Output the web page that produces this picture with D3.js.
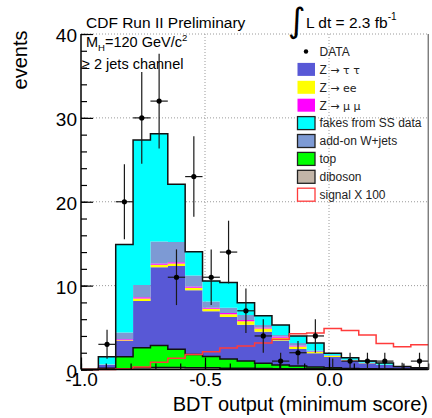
<!DOCTYPE html>
<html><head><meta charset="utf-8">
<script src="https://cdn.jsdelivr.net/npm/d3@7"></script>
<style>body{margin:0;background:#fff}svg{display:block;font-family:"Liberation Sans",Arial,sans-serif}</style>
</head><body><svg id="c" width="432" height="418"></svg>
<script>
// ---- data (20 bins of width 0.07 from -1.0 to 0.4) ----
const binLow = [-1.00,-0.93,-0.86,-0.79,-0.72,-0.65,-0.58,-0.51,-0.44,-0.37,-0.30,-0.23,-0.16,-0.09,-0.02,0.05,0.12,0.19,0.26,0.33];
const binWidth = 0.07;
const diboson = [0,0.05,0.1,0.2,0.25,0.25,0.2,0.2,0.15,0.15,0.12,0.1,0.1,0.08,0.06,0.05,0.04,0.03,0.02,0.02];
const topq    = [0,0.1,1.43,2.4,2.6,2.15,1.6,1.35,1.1,0.85,0.63,0.45,0.32,0.22,0.14,0.07,0.04,0.03,0.02,0.01];
const ztt     = [0,0.4,1.87,5.57,9.35,9.95,7.65,5.4,5.0,4.35,3.75,2.9,2.03,1.63,1.3,0.93,0.66,0.48,0.26,0.15];
const zee     = [0,0.02,0.1,0.3,0.3,0.3,0.3,0.3,0.35,0.4,0.4,0.35,0.3,0.15,0.1,0.05,0.03,0.02,0.01,0.01];
const zmm     = [0,0.02,0.1,0.15,0.15,0.15,0.15,0.12,0.15,0.15,0.12,0.12,0.1,0.08,0.05,0.03,0.02,0.01,0.01,0];
const addon   = [0,0.01,0.8,1.46,2.6,2.4,1.3,0.73,0.6,0.6,0.3,0.2,0.3,0.12,0.05,0.04,0.02,0.01,0.01,0.01];
const fakes   = [0,0.93,10.5,17.27,12.85,6.9,2.85,2.45,3.01,1.47,1.1,1.18,0.85,0.87,0.25,0.23,0.19,0.2,0.03,0];
const signal100 = [0,0,0.05,0.3,0.85,1.35,1.8,2.12,2.55,2.8,3.15,3.6,4.25,4.35,4.9,4.65,4.1,3.1,2.7,2.95];
const dataN   = [0,3,20,30,32,11,23,11,14,7,4,1,2,4,0,1,1,1,0,1];
const dataErr = [0,1.73,4.47,5.48,5.66,3.32,4.8,3.32,3.74,2.65,2,1,1.41,2,1.3,1,1,1,0.8,1];
const yTicks = [0,10,20,30,40];
const xTicks = [-1.0,-0.5,0.0];
const legendLabels = ["DATA","Z → τ τ","Z → ee","Z → μ μ","fakes from SS data","add-on W+jets","top","diboson","signal X 100"];

const svg = d3.select("#c");
const x = d3.scaleLinear([-1.0, 0.4], [81, 428.2]);
const y = d3.scaleLinear([0, 40], [369.5, 34]);

// grid
const grid = svg.append("g").attr("stroke","#9a9a9a").attr("stroke-dasharray","1,2").attr("stroke-width",1);
[10,20,30,40].forEach(v=>grid.append("line").attr("x1",81).attr("x2",428.2).attr("y1",y(v)).attr("y2",y(v)));
[-0.5,0.0].forEach(v=>grid.append("line").attr("x1",x(v)).attr("x2",x(v)).attr("y1",y(40)).attr("y2",y(0)));

// stack
const keys = ["diboson","top","ztt","zee","zmm","addon","fakes"];
const series = {diboson, top: topq, ztt, zee, zmm, addon, fakes};
const rows = binLow.map((lo,i)=>{const r={lo}; keys.forEach(k=>r[k]=series[k][i]); return r;});
const stacked = d3.stack().keys(keys)(rows);
const fill = {diboson:"#c2b5a8", top:"#00ff00", ztt:"#5858d6", zee:"#ffff00", zmm:"#ff00ff", addon:"#7d9ad4", fakes:"#00ffff"};
const outlined = {fakes:true, top:true, diboson:true};

function expand(layer){
  const pts=[];
  layer.forEach(d=>{const lo=d.data.lo; pts.push({x:lo,y0:d[0],y1:d[1]}); pts.push({x:lo+binWidth,y0:d[0],y1:d[1]});});
  return pts;
}
const area = d3.area().x(d=>x(d.x)).y0(d=>y(d.y0)).y1(d=>y(d.y1));
stacked.forEach(layer=>{
  const pts = expand(layer);
  svg.append("path").attr("d",area(pts)).attr("fill",fill[layer.key]).attr("stroke","none");
});
const line = d3.line().x(d=>x(d[0])).y(d=>y(d[1]));
stacked.forEach(layer=>{
  if(!outlined[layer.key]) return;
  const pts=[[ -1.0, 0 ]];
  layer.forEach(d=>{pts.push([d.data.lo,d[1]]); pts.push([d.data.lo+binWidth,d[1]]);});
  pts.push([0.4,0]);
  svg.append("path").attr("d",line(pts)).attr("fill","none").attr("stroke","#111").attr("stroke-width",1.5);
});

// signal x100
const spts=[];
signal100.forEach((v,i)=>{spts.push([binLow[i],v]); spts.push([binLow[i]+binWidth,v]);});
svg.append("path").attr("d",line(spts)).attr("fill","none").attr("stroke","#ff3b3b").attr("stroke-width",1.5);

// data points
const dg = svg.append("g").attr("stroke","#1a1a1a").attr("stroke-width",1.2);
dataN.forEach((n,i)=>{
  const cx = x(binLow[i]+binWidth/2);
  if(n>0){
    dg.append("line").attr("x1",cx).attr("x2",cx).attr("y1",y(n-dataErr[i])).attr("y2",y(n+dataErr[i]));
    dg.append("line").attr("x1",x(binLow[i])).attr("x2",x(binLow[i]+binWidth)).attr("y1",y(n)).attr("y2",y(n));
    dg.append("circle").attr("cx",cx).attr("cy",y(n)).attr("r",2.6).attr("fill","#000").attr("stroke","none");
  } else if(i>0){
    dg.append("line").attr("x1",cx).attr("x2",cx).attr("y1",y(0)).attr("y2",y(dataErr[i]));
  }
});

// axes
const fmt = v => (v<0?"-":"") + Math.abs(v).toFixed(1);
const yAx = svg.append("g").attr("transform","translate(81,0)")
  .call(d3.axisLeft(y).tickValues(yTicks).tickSize(-12).tickPadding(4).tickFormat(d3.format("d")));
const yMin = svg.append("g").attr("transform","translate(81,0)")
  .call(d3.axisLeft(y).tickValues(d3.range(0,41,2)).tickSize(-6).tickFormat(""));
const xAx = svg.append("g").attr("transform","translate(0,369.5)")
  .call(d3.axisBottom(x).tickValues(xTicks).tickSize(-12).tickPadding(3).tickFormat(fmt));
const xMin = svg.append("g").attr("transform","translate(0,369.5)")
  .call(d3.axisBottom(x).tickValues(d3.range(-10,5).map(v=>v/10)).tickSize(-6).tickFormat(""));
[yAx,yMin,xAx,xMin].forEach(g=>{g.select(".domain").remove(); g.selectAll("line").attr("stroke","#000").attr("stroke-width",1.2);});
yAx.selectAll("text").attr("font-size",19).attr("font-family","Liberation Sans, Arial, sans-serif").attr("fill","#000").attr("dy","0.42em");
xAx.selectAll("text").attr("font-size",19).attr("font-family","Liberation Sans, Arial, sans-serif").attr("fill","#000");
svg.append("line").attr("x1",81).attr("x2",81).attr("y1",y(40)).attr("y2",y(0)).attr("stroke","#000").attr("stroke-width",1.5);
svg.append("line").attr("x1",81).attr("x2",428.2).attr("y1",y(0)).attr("y2",y(0)).attr("stroke","#000").attr("stroke-width",1.5);
svg.append("line").attr("x1",428.2).attr("x2",428.2).attr("y1",y(40)).attr("y2",y(0)).attr("stroke","#444").attr("stroke-width",1);

// axis titles
svg.append("text").attr("x",428).attr("y",411).attr("text-anchor","end").attr("font-size",20).text("BDT output (minimum score)");
svg.append("text").attr("transform","translate(27,60) rotate(-90)").attr("text-anchor","middle").attr("font-size",20).text("events");

// title
svg.append("text").attr("x",86).attr("y",27.5).attr("font-size",15.5).text("CDF Run II Preliminary");
svg.append("text").attr("x",288).attr("y",32).attr("font-size",34).attr("font-family","DejaVu Sans").text("∫");
const lum = svg.append("text").attr("x",306).attr("y",27.5).attr("font-size",15.5);
lum.append("tspan").text("L dt = 2.3 fb");
lum.append("tspan").attr("font-size",10).attr("dy",-8).text("-1");

// annotations
const mh = svg.append("text").attr("x",86).attr("y",47).attr("font-size",14.5);
mh.append("tspan").text("M");
mh.append("tspan").attr("font-size",9.5).attr("dy",4).text("H");
mh.append("tspan").attr("dy",-4).text("=120 GeV/c");
mh.append("tspan").attr("font-size",9.5).attr("dy",-6).text("2");
svg.append("text").attr("x",82).attr("y",69).attr("font-size",14.5).text("≥ 2 jets channel");

// legend
const lg = svg.append("g");
const legendKinds = ["dot","ztt","zee","zmm","fakes","addon","top","diboson","signal"];
legendLabels.forEach((lab,i)=>{
  const cy = 51.5 + i*17.9;
  const k = legendKinds[i];
  if(k==="dot"){
    lg.append("circle").attr("cx",306).attr("cy",cy).attr("r",2.2).attr("fill","#000");
  } else if(k==="signal"){
    lg.append("rect").attr("x",297.5).attr("y",cy-6.5).attr("width",17.5).attr("height",13).attr("fill","#fff").attr("stroke","#ff3b3b").attr("stroke-width",1.3);
  } else {
    lg.append("rect").attr("x",297.5).attr("y",cy-6.5).attr("width",17.5).attr("height",13).attr("fill",fill[k])
      .attr("stroke", outlined[k]||k==="addon" ? "#222":"none").attr("stroke-width",1.3);
  }
  const t = lg.append("text").attr("x",319.5).attr("y",cy).attr("dy","0.36em").attr("font-size",12).attr("fill","#222");
  if(lab.startsWith("Z")){
    t.append("tspan").text("Z");
    t.append("tspan").attr("font-size",11).attr("font-family","DejaVu Sans").text(lab.slice(1));
  } else t.text(lab);
});
</script></body></html>
